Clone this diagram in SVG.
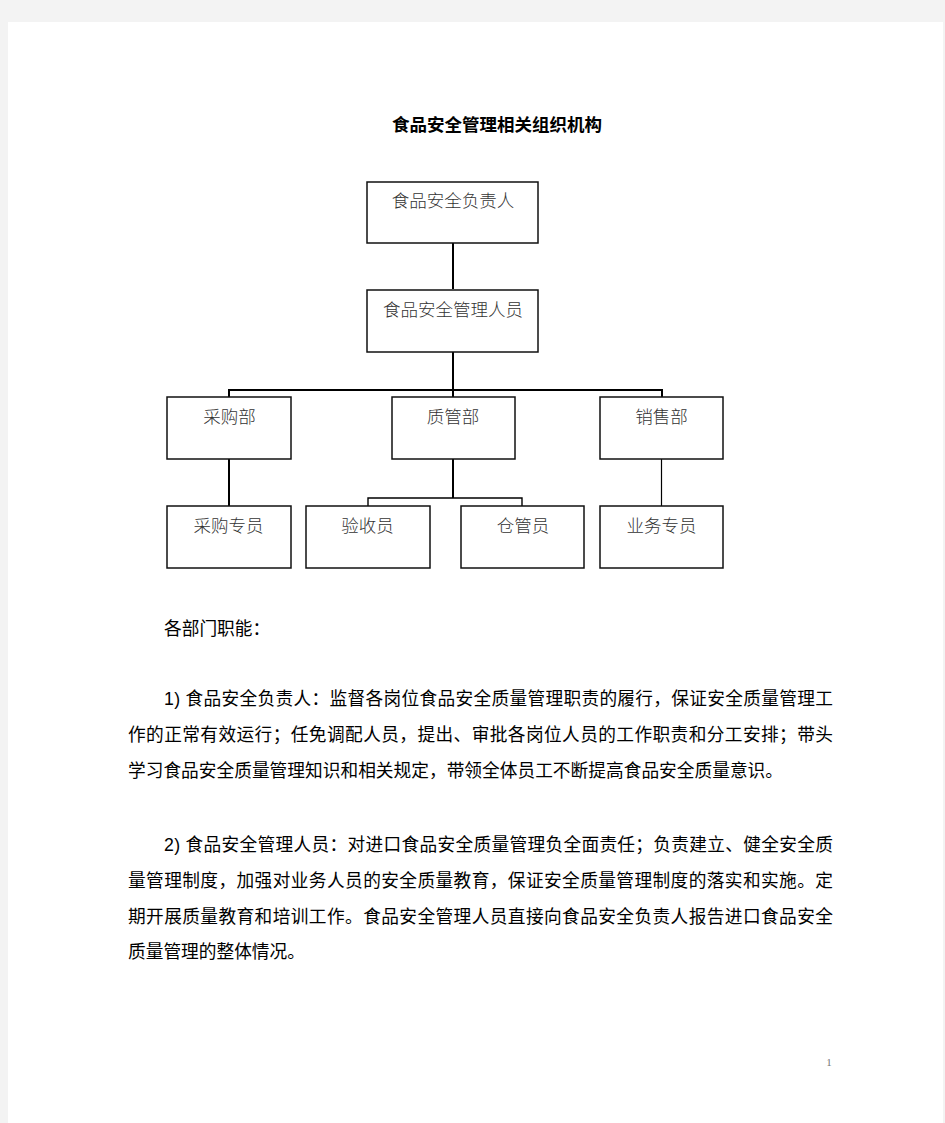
<svg xmlns="http://www.w3.org/2000/svg" width="945" height="1123" viewBox="0 0 945 1123">
<style>
.box{fill:#fff;stroke:#111;stroke-width:1.5}
.bt{font-family:"Liberation Serif","Noto Sans CJK SC",serif;font-size:17.5px;fill:#333;text-anchor:middle;font-weight:300}
.ln{stroke:#000;fill:none}
.body{font-family:"Liberation Sans","Noto Sans CJK SC",sans-serif;font-size:17.7px;fill:#000}
.title{font-family:"Liberation Sans","Noto Sans CJK SC",sans-serif;font-size:17.5px;font-weight:bold;fill:#000;text-anchor:middle}
</style>
<rect x="0" y="0" width="945" height="1123" fill="#f3f3f3"/>
<rect x="8" y="22" width="935" height="1101" fill="#fff"/>
<text class="title" x="497" y="131" textLength="210" lengthAdjust="spacingAndGlyphs">食品安全管理相关组织机构</text>
<g id="connectors">
<line class="ln" x1="453" y1="243" x2="453" y2="289" stroke-width="2"/>
<line class="ln" x1="453" y1="352" x2="453" y2="390" stroke-width="2"/>
<polyline class="ln" points="229,397 229,390 662,390 662,397" stroke-width="2"/>
<line class="ln" x1="453" y1="390" x2="453" y2="397" stroke-width="2"/>
<line class="ln" x1="229" y1="459" x2="229" y2="506" stroke-width="2"/>
<line class="ln" x1="453" y1="459" x2="453" y2="498" stroke-width="2"/>
<polyline class="ln" points="368,506 368,498 522,498 522,506" stroke-width="1.4"/>
<line class="ln" x1="661.5" y1="459" x2="661.5" y2="506" stroke-width="1.2"/>
</g>
<g id="n1"><rect class="box" x="367" y="182" width="171" height="61"/><text class="bt" x="453" y="207">食品安全负责人</text></g>
<g id="n2"><rect class="box" x="367" y="290" width="171" height="62"/><text class="bt" x="453" y="316">食品安全管理人员</text></g>
<g id="n3"><rect class="box" x="167" y="397" width="124" height="62"/><text class="bt" x="229.5" y="423">采购部</text></g>
<g id="n4"><rect class="box" x="392" y="397" width="123" height="62"/><text class="bt" x="453" y="423">质管部</text></g>
<g id="n5"><rect class="box" x="600" y="397" width="123" height="62"/><text class="bt" x="661.5" y="423">销售部</text></g>
<g id="n6"><rect class="box" x="167" y="506" width="124" height="62"/><text class="bt" x="228.5" y="532">采购专员</text></g>
<g id="n7"><rect class="box" x="306" y="506" width="124" height="62"/><text class="bt" x="367.5" y="532">验收员</text></g>
<g id="n8"><rect class="box" x="461" y="506" width="123" height="62"/><text class="bt" x="523" y="532">仓管员</text></g>
<g id="n9"><rect class="box" x="600" y="506" width="123" height="62"/><text class="bt" x="661.5" y="532">业务专员</text></g>
<g id="text">
<text class="body" x="164" y="635">各部门职能：</text>
<text class="body" x="164" y="705" textLength="669" lengthAdjust="spacing">1) 食品安全负责人：监督各岗位食品安全质量管理职责的履行，保证安全质量管理工</text>
<text class="body" x="128" y="741" textLength="705" lengthAdjust="spacing">作的正常有效运行；任免调配人员，提出、审批各岗位人员的工作职责和分工安排；带头</text>
<text class="body" x="128" y="777" textLength="655" lengthAdjust="spacing">学习食品安全质量管理知识和相关规定，带领全体员工不断提高食品安全质量意识。</text>
<text class="body" x="164" y="851" textLength="669" lengthAdjust="spacing">2) 食品安全管理人员：对进口食品安全质量管理负全面责任；负责建立、健全安全质</text>
<text class="body" x="128" y="887" textLength="705" lengthAdjust="spacing">量管理制度，加强对业务人员的安全质量教育，保证安全质量管理制度的落实和实施。定</text>
<text class="body" x="128" y="923" textLength="705" lengthAdjust="spacing">期开展质量教育和培训工作。食品安全管理人员直接向食品安全负责人报告进口食品安全</text>
<text class="body" x="128" y="958">质量管理的整体情况。</text>
<text x="829" y="1066" font-family="Liberation Serif,serif" font-size="11" fill="#777" text-anchor="middle">1</text>
</g>
</svg>
